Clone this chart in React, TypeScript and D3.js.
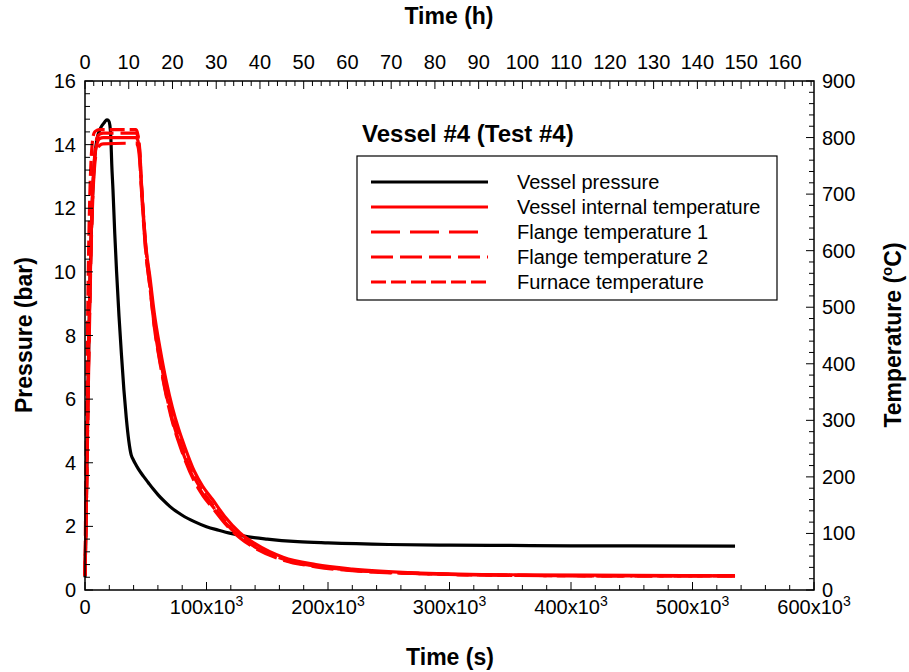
import React from "react";
import * as d3 from "d3";

const FONT = "Liberation Sans, Arial, sans-serif";

// ---------- data ----------
const pressureTime = [0, 1000, 2000, 3000, 4000, 5000, 6000, 7000, 8000, 10000, 12000, 14000, 16000, 18000, 19500, 20500, 21300, 22000, 23000, 24500, 26000, 28000, 30000, 32000, 34000, 36000, 38000, 39000, 41000, 44000, 48000, 52000, 56000, 60000, 65000, 70000, 80000, 90000, 100000, 110000, 120000, 130000, 150000, 175000, 200000, 250000, 300000, 350000, 400000, 450000, 535000];
const pressureBar = [0.4, 2.5, 5, 7.5, 9.5, 11, 12.2, 13.0, 13.6, 14.2, 14.45, 14.6, 14.7, 14.78, 14.75, 14.6, 14.2, 13.4, 12.6, 11.2, 10.0, 8.6, 7.4, 6.3, 5.4, 4.7, 4.25, 4.15, 4.0, 3.8, 3.58, 3.38, 3.18, 3.0, 2.8, 2.62, 2.35, 2.15, 1.99, 1.88, 1.78, 1.7, 1.6, 1.52, 1.48, 1.43, 1.41, 1.4, 1.39, 1.39, 1.38];

const tempTime = [0, 1000, 2000, 3000, 4000, 5000, 6000, 7000, 8000, 10000, 12000, 15000, 42000, 43500, 45000, 46500, 48000, 50000, 53500, 57000, 61700, 67000, 72000, 77000, 82300, 90000, 97000, 105000, 115000, 127600, 140000, 163000, 190000, 220000, 276000, 350000, 450000, 535000];
const internalTemp = [25, 150, 290, 420, 530, 620, 690, 735, 765, 790, 798, 800, 800, 795, 770, 715, 665, 610, 552, 490, 428, 368, 322, 285, 252, 210, 183, 160, 130, 101, 82, 58, 45, 37, 30, 27, 26, 25];
const flange1Temp = [25, 130, 260, 390, 500, 600, 670, 720, 752, 778, 786, 789, 790, 785, 760, 705, 655, 598, 535, 468, 405, 345, 300, 265, 233, 195, 170, 148, 120, 94, 76, 54, 42, 35, 29, 26, 25, 25];
const flange2Temp = [25, 140, 280, 410, 520, 610, 680, 730, 770, 800, 806, 808, 808, 802, 775, 712, 660, 601, 535, 466, 402, 342, 297, 262, 230, 192, 167, 145, 118, 92, 74, 53, 41, 34, 29, 26, 25, 25];
const furnaceTemp = [25, 250, 450, 600, 700, 760, 790, 805, 810, 813, 814, 814, 814, 805, 780, 718, 668, 608, 543, 476, 412, 352, 307, 271, 238, 199, 174, 151, 122, 95, 77, 55, 43, 35, 29, 26, 25, 25];

const legendLabels = ["Vessel pressure", "Vessel internal temperature", "Flange temperature 1", "Flange temperature 2", "Furnace temperature"];
const bottomTicks = [0, 100000, 200000, 300000, 400000, 500000, 600000];
const topTicks = d3.range(0, 161, 10);
const leftTicks = d3.range(0, 17, 2);
const rightTicks = d3.range(0, 901, 100);

// ---------- layout ----------
const L = 85, R = 814, T = 81, B = 590;

export default function App() {
  const x = d3.scaleLinear().domain([0, 600000]).range([L, R]);
  const xh = d3.scaleLinear().domain([0, 600000 / 3600]).range([L, R]);
  const yP = d3.scaleLinear().domain([0, 16]).range([B, T]);
  const yT = d3.scaleLinear().domain([0, 900]).range([B, T]);

  const pLine = d3.line<number>().x((d, i) => x(pressureTime[i])).y((d) => yP(d)).curve(d3.curveMonotoneX);
  const tLine = d3.line<number>().x((d, i) => x(tempTime[i])).y((d) => yT(d)).curve(d3.curveMonotoneX);

  const series = [
    { d: pLine(pressureBar), color: "#000", dash: "" },
    { d: tLine(internalTemp), color: "#ff0000", dash: "" },
    { d: tLine(flange1Temp), color: "#ff0000", dash: "29 10" },
    { d: tLine(flange2Temp), color: "#ff0000", dash: "22 7" },
    { d: tLine(furnaceTemp), color: "#ff0000", dash: "15 5" },
  ];

  const minorBottom = d3.range(0, 600001, 20000);
  const minorTop = d3.range(0, 600000 / 3600, 2);
  const minorLeft = d3.range(0, 16.01, 0.4);
  const minorRight = d3.range(0, 901, 20);

  const tickFont = { fontFamily: FONT, fontSize: 20, fill: "#000" } as const;
  const titleFont = { fontFamily: FONT, fontSize: 23, fontWeight: "bold", fill: "#000" } as const;

  return (
    <svg width={909} height={672} style={{ position: "absolute", left: 0, top: 0, background: "#fff" }}>
      <rect x={0} y={0} width={909} height={672} fill="#fff" />
      {/* data lines */}
      {series.map((s, i) => (
        <path key={i} d={s.d || ""} fill="none" stroke={s.color} strokeWidth={3.2} strokeDasharray={s.dash || undefined} />
      ))}
      {/* frame */}
      <rect x={L} y={T} width={R - L} height={B - T} fill="none" stroke="#000" strokeWidth={1.5} />
      {/* bottom ticks */}
      {minorBottom.map((v) => {
        const major = v % 100000 === 0;
        return <line key={"b" + v} x1={x(v)} x2={x(v)} y1={B} y2={B - (major ? 8 : 5)} stroke="#000" strokeWidth={1} />;
      })}
      {bottomTicks.map((v) => (
        <text key={"bl" + v} x={x(v)} y={614} textAnchor="middle" {...tickFont}>
          {v === 0 ? "0" : (
            <>
              {`${v / 1000}x10`}
              <tspan dy={-8} fontSize={14}>3</tspan>
            </>
          )}
        </text>
      ))}
      {/* top ticks */}
      {minorTop.map((v) => {
        const major = v % 10 === 0;
        return <line key={"t" + v} x1={xh(v)} x2={xh(v)} y1={T} y2={T + (major ? 8 : 5)} stroke="#000" strokeWidth={1} />;
      })}
      {topTicks.map((v) => (
        <text key={"tl" + v} x={xh(v)} y={69} textAnchor="middle" {...tickFont}>{v}</text>
      ))}
      {/* left ticks */}
      {minorLeft.map((v, i) => {
        const major = i % 5 === 0;
        return <line key={"l" + i} x1={L} x2={L + (major ? 8 : 5)} y1={yP(v)} y2={yP(v)} stroke="#000" strokeWidth={1} />;
      })}
      {leftTicks.map((v) => (
        <text key={"ll" + v} x={76} y={yP(v) + 7} textAnchor="end" {...tickFont}>{v}</text>
      ))}
      {/* right ticks */}
      {minorRight.map((v) => {
        const major = v % 100 === 0;
        return <line key={"r" + v} x1={R} x2={R - (major ? 8 : 5)} y1={yT(v)} y2={yT(v)} stroke="#000" strokeWidth={1} />;
      })}
      {rightTicks.map((v) => (
        <text key={"rl" + v} x={822} y={yT(v) + 7} textAnchor="start" {...tickFont}>{v}</text>
      ))}
      {/* axis titles */}
      <text x={449} y={24} textAnchor="middle" {...titleFont}>Time (h)</text>
      <text x={450} y={665} textAnchor="middle" {...titleFont}>Time (s)</text>
      <text transform={`translate(32,335) rotate(-90)`} textAnchor="middle" {...titleFont}>Pressure (bar)</text>
      <text transform={`translate(901,335) rotate(-90)`} textAnchor="middle" {...titleFont}>
        Temperature (<tspan dy={-9} fontSize={15}>o</tspan><tspan dy={9}>C)</tspan>
      </text>
      {/* legend */}
      <text x={362} y={142} fontFamily={FONT} fontSize={24} fontWeight="bold">Vessel #4 (Test #4)</text>
      <rect x={357} y={156} width={420} height={144} fill="#fff" stroke="#000" strokeWidth={1.2} />
      {legendLabels.map((lab, i) => {
        const yy = 182 + i * 25;
        return (
          <g key={lab}>
            <line x1={371} x2={488} y1={yy} y2={yy} stroke={series[i].color} strokeWidth={3.2} strokeDasharray={series[i].dash || undefined} />
            <text x={517} y={yy + 7} fontFamily={FONT} fontSize={20}>{lab}</text>
          </g>
        );
      })}
    </svg>
  );
}
